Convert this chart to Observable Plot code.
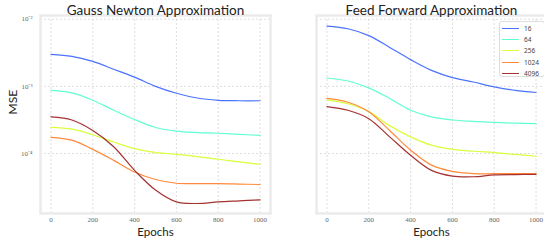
<!DOCTYPE html>
<html><head><meta charset="utf-8">
<script src="https://cdn.jsdelivr.net/npm/d3@7"></script>
<script src="https://cdn.jsdelivr.net/npm/@observablehq/plot@0.6"></script>
<style>
body{margin:0;background:#fff;}
#root{position:relative;width:544px;height:242px;overflow:hidden;}
#root svg{position:absolute;top:0;overflow:visible;}
#legend{position:absolute;left:499px;top:21px;width:46px;height:56px;box-sizing:border-box;border:1px solid #dcdcdc;border-radius:3px;background:#fff;font-family:"Noto Sans",sans-serif;font-size:6.5px;color:#444;padding-top:1px;}
.row{display:flex;align-items:center;height:11.2px;}
.sw{width:17px;height:0;margin-left:2px;margin-right:5px;border-top:1.3px solid;}
</style></head><body>
<div id="root"><div id="legend"></div></div>
<script>
const epochs = [0,100,200,300,400,500,600,700,800,900,1000];
const sizes = ["16","64","256","1024","4096"];
const colors = ["#4a73ff","#62ffd2","#d8ff3a","#ff8a3c","#a63232"];
const gn16   = [3.0e-3,2.8e-3,2.35e-3,1.8e-3,1.37e-3,1.0e-3,7.9e-4,6.7e-4,6.2e-4,6.1e-4,6.1e-4];
const gn64   = [8.7e-4,8.0e-4,6.2e-4,4.4e-4,3.2e-4,2.44e-4,2.15e-4,2.05e-4,2.0e-4,1.93e-4,1.86e-4];
const gn256  = [2.45e-4,2.3e-4,1.9e-4,1.48e-4,1.18e-4,1.03e-4,9.7e-5,9.0e-5,8.2e-5,7.5e-5,6.9e-5];
const gn1024 = [1.74e-4,1.58e-4,1.15e-4,7.9e-5,5.3e-5,4.1e-5,3.6e-5,3.55e-5,3.55e-5,3.5e-5,3.45e-5];
const gn4096 = [3.5e-4,3.15e-4,2.2e-4,1.26e-4,5.6e-5,2.85e-5,1.9e-5,1.8e-5,1.9e-5,1.97e-5,2.04e-5];
const ff16   = [7.9e-3,7.2e-3,5.7e-3,3.8e-3,2.5e-3,1.73e-3,1.35e-3,1.16e-3,9.8e-4,8.7e-4,8.1e-4];
const ff64   = [1.33e-3,1.2e-3,9.5e-4,6.6e-4,4.4e-4,3.5e-4,3.15e-4,3.0e-4,2.9e-4,2.83e-4,2.78e-4];
const ff256  = [6.3e-4,5.5e-4,4.2e-4,2.6e-4,1.77e-4,1.33e-4,1.15e-4,1.08e-4,1.03e-4,9.7e-5,9.1e-5];
const ff1024 = [6.6e-4,5.8e-4,4.2e-4,2.2e-4,1.12e-4,6.7e-5,5.4e-5,5.0e-5,5.0e-5,5.0e-5,5.0e-5];
const ff4096 = [5.0e-4,4.4e-4,3.3e-4,1.77e-4,9.4e-5,5.6e-5,4.6e-5,4.5e-5,4.8e-5,4.85e-5,4.9e-5];
const xTicks = [0,200,400,600,800,1000];
const yTicks = [1e-2,1e-3,1e-4];

const supMap = {"-":"⁻","0":"⁰","1":"¹","2":"²","3":"³","4":"⁴","5":"⁵","6":"⁶","7":"⁷","8":"⁸","9":"⁹"};
const fmtPow = d => "10" + String(Math.round(Math.log10(d))).split("").map(c => supMap[c]).join("");

function rows(series){
  const out = [];
  series.forEach((vals, i) => vals.forEach((v, j) => out.push({epoch: epochs[j], mse: v, size: sizes[i]})));
  return out;
}
const gnData = rows([gn16,gn64,gn256,gn1024,gn4096]);
const ffData = rows([ff16,ff64,ff256,ff1024,ff4096]);

function panel(data, title, showY, opts){
  return Plot.plot({
    width: opts.width, height: 242,
    marginLeft: opts.marginLeft, marginRight: opts.marginRight, marginTop: 15, marginBottom: 29,
    style: {background: "transparent", overflow: "visible"},
    x: {domain: [-50, 1050], axis: null},
    y: {type: "log", domain: [1.277e-5, 1.135e-2], axis: null},
    color: {domain: sizes, range: colors},
    marks: [
      Plot.gridX(xTicks, {stroke: "#d0d0d0", strokeOpacity: 1, strokeDasharray: "2,2", strokeWidth: 0.7}),
      Plot.gridY(yTicks, {stroke: "#d0d0d0", strokeOpacity: 1, strokeDasharray: "2,2", strokeWidth: 0.7}),
      Plot.frame({stroke: "#ebebeb", strokeWidth: 2.5}),
      Plot.axisX(xTicks, {tickSize: 0, tickPadding: 4, fontSize: 7, fontFamily: "Liberation Serif", fill: "#666", tickFormat: d => String(d), label: null}),
      showY ? Plot.axisY(yTicks, {tickSize: 0, tickPadding: 8, fontSize: 7, fontFamily: "Liberation Serif", fill: "#666", tickFormat: fmtPow, label: null}) : null,
      Plot.line(data, {x: "epoch", y: "mse", stroke: "size", z: "size", strokeWidth: 1.2, curve: "catmull-rom"}),
      Plot.text([title], {frameAnchor: "top", lineAnchor: "bottom", dy: -1, fontSize: 13.5, fontFamily: "Lato", fill: "#222"}),
      Plot.text(["Epochs"], {frameAnchor: "bottom", lineAnchor: "top", dy: 14, fontSize: 11.5, fontFamily: "Lato", fill: "#222"}),
      showY ? Plot.text(["MSE"], {frameAnchor: "left", rotate: -90, dx: -27, fontSize: 12, fontFamily: "Lato", fill: "#222"}) : null
    ]
  });
}

const root = document.getElementById("root");
const left = panel(gnData, "Gauss Newton Approximation", true, {width: 272, marginLeft: 40, marginRight: 2});
left.style.left = "0px";
root.insertBefore(left, root.firstChild);
const right = panel(ffData, "Feed Forward Approximation", false, {width: 274, marginLeft: 44, marginRight: 0});
right.style.left = "272px";
root.insertBefore(right, root.firstChild.nextSibling);

const legend = document.getElementById("legend");
sizes.forEach((s, i) => {
  const r = document.createElement("div");
  r.className = "row";
  const sw = document.createElement("div");
  sw.className = "sw";
  sw.style.borderTopColor = colors[i];
  const t = document.createElement("span");
  t.textContent = s;
  r.appendChild(sw); r.appendChild(t);
  legend.appendChild(r);
});
</script>
</body></html>
